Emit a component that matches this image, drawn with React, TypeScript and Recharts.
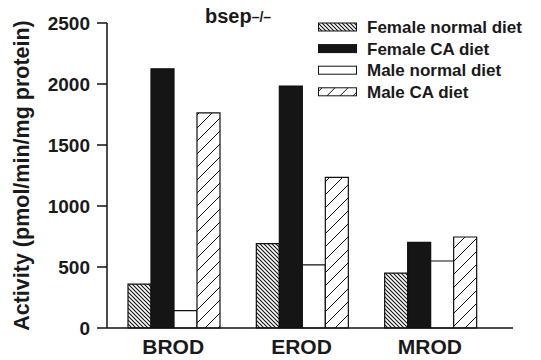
import { BarChart, Bar, XAxis, YAxis, Label } from "recharts";

const assays = ["BROD", "EROD", "MROD"];
const femaleNormal = [360, 692, 450];
const femaleCA = [2125, 1983, 702];
const maleNormal = [142, 518, 549];
const maleCA = [1763, 1235, 746];
const yTicks = [0, 500, 1000, 1500, 2000, 2500];

const series = [
  { key: "femaleNormal", name: "Female normal diet", fill: "url(#dense)" },
  { key: "femaleCA", name: "Female CA diet", fill: "#151515" },
  { key: "maleNormal", name: "Male normal diet", fill: "#ffffff" },
  { key: "maleCA", name: "Male CA diet", fill: "url(#sparse)" },
];

const data = assays.map((name, i) => ({
  name,
  femaleNormal: femaleNormal[i],
  femaleCA: femaleCA[i],
  maleNormal: maleNormal[i],
  maleCA: maleCA[i],
}));

const FONT = "'Liberation Sans', Arial, Helvetica, sans-serif";
const INK = "#1a1a1a";

export default function App() {
  return (
    <div style={{ position: "absolute", left: 0, top: 0, background: "#fff" }}>
      <BarChart
        width={541}
        height={360}
        data={data}
        margin={{ top: 23, right: 28, bottom: 0, left: 0 }}
        barCategoryGap={19}
        barGap={0}
      >
        <defs>
          <pattern id="dense" width={4} height={4} patternUnits="userSpaceOnUse">
            <rect width={4} height={4} fill="#fff" />
            <path d="M-1,-1 L5,5 M3,-1 L5,1 M-1,3 L1,5" stroke="#111" strokeWidth={1.1} />
          </pattern>
          <pattern id="sparse" width={13} height={13} patternUnits="userSpaceOnUse">
            <rect width={13} height={13} fill="#fff" />
            <path d="M-1,14 L14,-1" stroke="#111" strokeWidth={1} />
          </pattern>
        </defs>
        <text x={205} y={23} fontFamily={FONT} fontWeight={700} fontSize={20} fill={INK}>
          bsep<tspan fontSize={14} dy={-1}>–/–</tspan>
        </text>
        {/* legend, drawn by hand so it does not eat plot space */}
        <g>
          {series.map((s, i) => (
            <g key={s.key} transform={`translate(318, ${27 + i * 21.6})`}>
              <rect x={0.5} y={-4} width={38} height={8} fill={s.fill} stroke="#111" strokeWidth={1} />
              <text x={49} y={6} fontFamily={FONT} fontWeight={700} fontSize={17} fill={INK}>
                {s.name}
              </text>
            </g>
          ))}
        </g>
        <XAxis
          dataKey="name"
          height={32}
          interval={0}
          tickLine={false}
          axisLine={{ stroke: "#111", strokeWidth: 1.5 }}
          padding={{ left: 2, right: 19 }}
          tickMargin={5}
          tick={{ fontFamily: FONT, fontWeight: 700, fontSize: 21, fill: INK }}
        />
        <YAxis
          width={107}
          domain={[0, 2500]}
          ticks={yTicks}
          tickSize={10}
          tickMargin={7}
          axisLine={{ stroke: "#111", strokeWidth: 1.5 }}
          tickLine={{ stroke: "#111", strokeWidth: 1.5 }}
          tick={{ fontFamily: FONT, fontWeight: 700, fontSize: 19, fill: INK }}
        >
          <Label
            value="Activity (pmol/min/mg protein)"
            angle={-90}
            position="insideLeft"
            offset={21}
            fontSize={21.5}
            style={{ fontFamily: FONT, fontWeight: 700, fontSize: 21.5, fill: INK, textAnchor: "middle" }}
          />
        </YAxis>
        {series.map((s) => (
          <Bar
            key={s.key}
            dataKey={s.key}
            name={s.name}
            fill={s.fill}
            stroke="#111"
            strokeWidth={1.2}
            isAnimationActive={false}
          />
        ))}
      </BarChart>
    </div>
  );
}
